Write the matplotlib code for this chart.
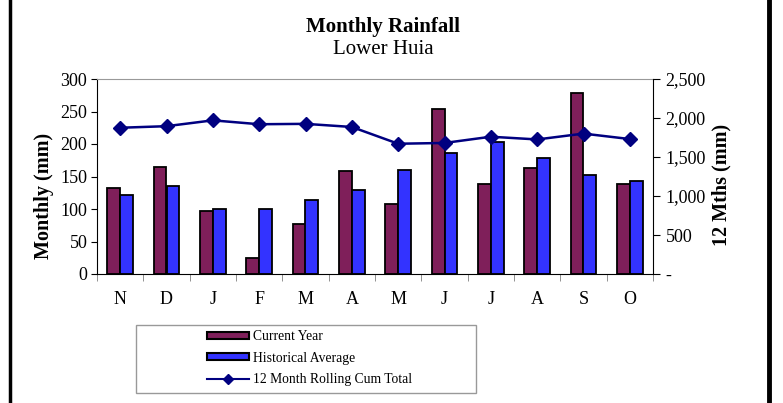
import matplotlib
matplotlib.use("Agg")
import matplotlib.pyplot as plt
import numpy as np
from matplotlib.lines import Line2D
from matplotlib.patches import Rectangle

months = ["N", "D", "J", "F", "M", "A", "M", "J", "J", "A", "S", "O"]
current_year = [132, 164, 97, 24, 77, 158, 108, 254, 138, 163, 278, 138]
historical_avg = [121, 135, 100, 100, 114, 129, 160, 186, 203, 178, 152, 143]
rolling_total = [1875, 1895, 1970, 1920, 1925, 1885, 1670, 1680, 1760, 1725, 1800, 1730]
left_ticks = [0, 50, 100, 150, 200, 250, 300]
right_ticks = [0, 500, 1000, 1500, 2000, 2500]
right_labels = ["-", "500", "1,000", "1,500", "2,000", "2,500"]

plt.rcParams['font.family'] = ['Liberation Serif', 'DejaVu Serif']

W, H = 783, 403
fig = plt.figure(figsize=(W/100, H/100), dpi=100)

# frame lines
fig.add_artist(Line2D([10/W, 10/W], [0, 1], color='black', lw=2.5, transform=fig.transFigure))
fig.add_artist(Line2D([769/W, 769/W], [0, 1], color='black', lw=3.5, transform=fig.transFigure))

ax_l, ax_r, ax_t, ax_b = 97, 653, 79, 274
ax = fig.add_axes([ax_l/W, 1-ax_b/H, (ax_r-ax_l)/W, (ax_b-ax_t)/H])
x = np.arange(len(months))
bw = 0.28
ax.bar(x - bw/2, current_year, bw, color='#7F1F5A', edgecolor='black', lw=1.3, zorder=2, label='Current Year')
ax.bar(x + bw/2, historical_avg, bw, color='#3333FF', edgecolor='black', lw=1.3, zorder=2, label='Historical Average')
ax.set_xlim(-0.5, len(months)-0.5)
ax.set_ylim(0, 300)
ax.set_yticks(left_ticks)
ax.set_xticks(x)
ax.set_xticklabels(months)
ax.set_xticks(np.arange(-0.5, len(months)), minor=True)
ax.tick_params(axis='x', which='major', length=0, labelsize=13, pad=12)
ax.tick_params(axis='x', which='minor', length=5, direction='out', color='#808080')
ax.tick_params(axis='y', labelsize=13, length=4, direction='out', pad=3)
ax.spines['top'].set_color('#999999')
ax.spines['right'].set_visible(False)
ax.set_ylabel('Monthly (mm)', fontsize=14.5, fontweight='bold')
ax.yaxis.set_label_coords((54-ax_l)/(ax_r-ax_l), (ax_b-196)/(ax_b-ax_t))

ax2 = ax.twinx()
ax2.plot(x, rolling_total, color='#000080', lw=1.8, marker='D', markersize=7, zorder=3)
ax2.set_ylim(0, 2500)
ax2.set_yticks(right_ticks)
ax2.set_yticklabels(right_labels)
ax2.tick_params(axis='y', labelsize=13, length=5, direction='out', pad=4)
for s in ['top', 'left', 'bottom']:
    ax2.spines[s].set_visible(False)
ax2.set_ylabel('12 Mths (mm)', fontsize=14.5, fontweight='bold')
ax2.yaxis.set_label_coords((711-ax_l)/(ax_r-ax_l), (ax_b-185)/(ax_b-ax_t))

fig.text(383/W, 1-27/H, 'Monthly Rainfall', ha='center', va='center', fontsize=15, fontweight='bold')
fig.text(383/W, 1-50/H, 'Lower Huia', ha='center', va='center', fontsize=15)

# legend frame
fig.add_artist(Rectangle((136/W, 1-393/H), (476-136)/W, (393-325)/H, transform=fig.transFigure,
                         facecolor='none', edgecolor='#999999', lw=1))
handles = [
    Rectangle((0, 0), 1, 1, facecolor='#7F1F5A', edgecolor='black', lw=1.5),
    Rectangle((0, 0), 1, 1, facecolor='#3333FF', edgecolor='black', lw=1.5),
    Line2D([0], [0], color='#000080', lw=1.5, marker='D', markersize=5),
]
labels = ['Current Year', 'Historical Average', '12 Month Rolling Cum Total']
leg = fig.legend(handles, labels, loc='upper left', bbox_to_anchor=(203/W, 1-326/H),
                 fontsize=9.8, frameon=False,
                 handlelength=3.1, handleheight=0.45, borderpad=0.3, labelspacing=0.62,
                 borderaxespad=0, handletextpad=0.3)

fig.savefig('out.png', dpi=100)
